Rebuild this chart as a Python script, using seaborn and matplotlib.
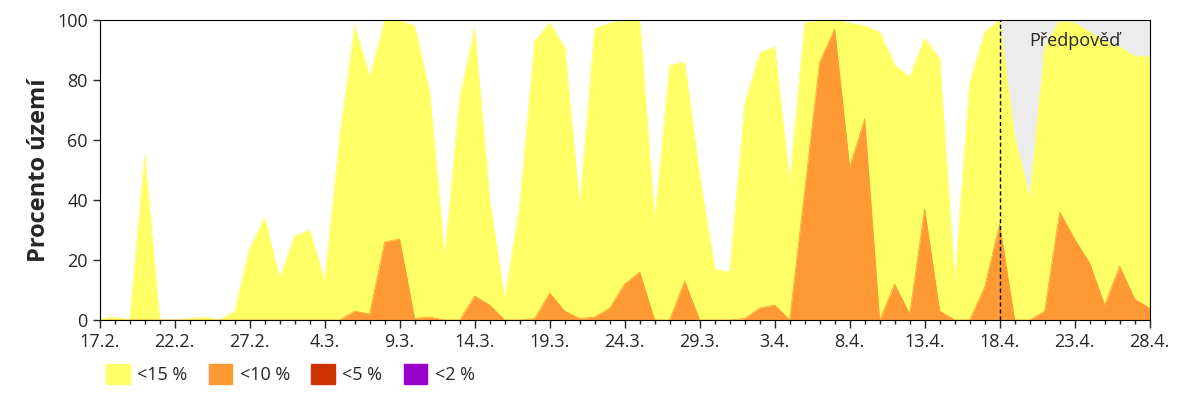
import numpy as np
import pandas as pd
import matplotlib
matplotlib.use("Agg")
import matplotlib.pyplot as plt
import matplotlib.patches as mpatches
import seaborn as sns

# dny od 17.2.2025 do 28.4.2025
dates = pd.date_range("2025-02-17", "2025-04-28", freq="D")
pod15 = [0.3, 1, 0, 55, 0, 0, 0.5, 1, 0, 3,
         24, 34, 14, 28, 30, 13, 61, 98, 81, 100,
         100, 98, 76, 21, 74, 97, 40, 7, 38, 93,
         99, 91, 38, 97, 99, 100, 100, 33, 85,
         86, 48, 17, 16, 72, 89, 91, 46, 99, 100,
         100, 99, 98, 96, 85, 81, 94, 87, 13, 79,
         96, 100, 61, 41, 91, 100, 99, 96, 93, 91,
         88, 88]
pod10 = [0, 0, 0, 0, 0, 0, 0, 0, 0, 0,
         0, 0, 0, 0, 0, 0, 0, 3, 2, 26,
         27, 0.5, 1, 0, 0, 8, 5, 0, 0, 0.5,
         9, 3, 0.5, 1, 4, 12, 16, 0, 0,
         13, 0, 0, 0, 0.5, 4, 5, 0, 43, 86,
         97, 51, 67, 0, 12, 2, 37, 3, 0, 0,
         11, 32, 0, 0, 3, 36, 27, 19, 5, 18,
         7, 4]
pod5 = [0] * len(pod10)
pod2 = [0] * len(pod10)
forecast_start = pd.Timestamp("2025-04-18")
tick_labels = ["17.2.", "22.2.", "27.2.", "4.3.", "9.3.", "14.3.", "19.3.",
               "24.3.", "29.3.", "3.4.", "8.4.", "13.4.", "18.4.", "23.4.", "28.4."]

df = pd.DataFrame({"datum": dates, "pod15": pod15, "pod10": pod10,
                   "pod5": pod5, "pod2": pod2})

sns.set_style("white")
plt.rcParams["font.family"] = ["Open Sans", "DejaVu Sans"]

barvy = {"pod15": "#ffff66", "pod10": "#ff9933", "pod5": "#cc3300", "pod2": "#9900cc"}

fig, ax = plt.subplots(figsize=(12, 4), dpi=100)
fig.subplots_adjust(left=0.083, right=0.958, top=0.95, bottom=0.2)

# predpoved - sede pozadi nad zlutou
fc = df[df["datum"] >= forecast_start]
ax.fill_between(fc["datum"], fc["pod15"], 100, color="#ececec", lw=0, zorder=0)

for col in ["pod15", "pod10", "pod5", "pod2"]:
    ax.fill_between(df["datum"], 0, df[col], color=barvy[col], lw=0, zorder=1)
    sns.lineplot(data=df, x="datum", y=col, ax=ax, color=barvy[col], lw=0.5, zorder=1)

ax.axvline(forecast_start, color="black", ls=(0, (3, 2)), lw=1, zorder=3)
ax.text(pd.Timestamp("2025-04-23"), 93, "Předpověď", fontsize=13, ha="center", va="center")

ax.set_xlim(dates[0], dates[-1])
ax.set_ylim(0, 100)
ax.set_yticks([0, 20, 40, 60, 80, 100])
ax.tick_params(axis="y", labelsize=13, length=5, width=1)
ticks = pd.date_range(dates[0], dates[-1], freq="5D")
ax.set_xticks(ticks)
ax.set_xticklabels(tick_labels, fontsize=13)
ax.set_xticks(dates, minor=True)
ax.tick_params(axis="x", which="major", length=6, width=1, direction="out", bottom=True)
ax.tick_params(axis="x", which="minor", length=3, width=1, direction="out", bottom=True)
ax.tick_params(axis="y", direction="out", left=True)
ax.set_xlabel("")
ax.set_ylabel("Procento území", fontsize=17, fontweight="bold")
for s in ax.spines.values():
    s.set_color("black")

handles = [mpatches.Patch(color=barvy[k], label=l) for k, l in
           [("pod15", "<15 %"), ("pod10", "<10 %"), ("pod5", "<5 %"), ("pod2", "<2 %")]]
fig.legend(handles=handles, loc="lower left", bbox_to_anchor=(0.075, 0.0), ncol=4,
           frameon=False, fontsize=13, handlelength=1.3, handleheight=1.3,
           columnspacing=1.2, handletextpad=0.4)

fig.savefig("out.png", dpi=100)
